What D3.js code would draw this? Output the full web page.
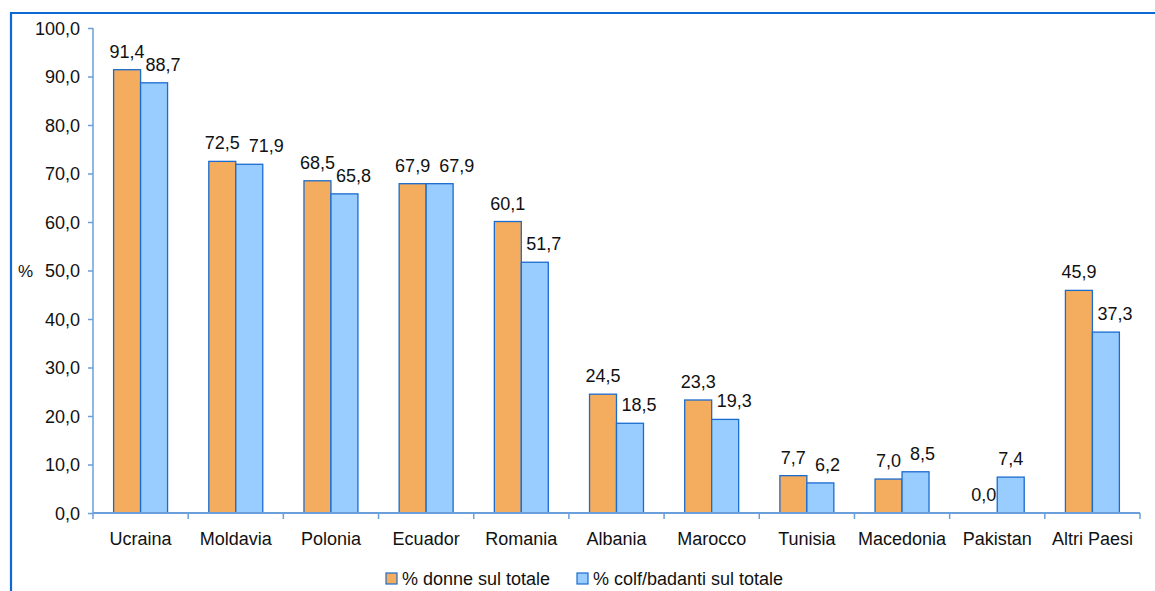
<!DOCTYPE html>
<html>
<head>
<meta charset="utf-8">
<script src="https://cdn.jsdelivr.net/npm/d3@7"></script>
<style>
  html, body { margin: 0; padding: 0; background: #fff; }
  svg { display: block; font-family: "Liberation Sans", Arial, sans-serif; }
</style>
</head>
<body>
<svg id="chart" width="1155" height="591"></svg>
<script>
// Countries and the two percentages per country
const categories = ["Ucraina", "Moldavia", "Polonia", "Ecuador", "Romania", "Albania",
                    "Marocco", "Tunisia", "Macedonia", "Pakistan", "Altri Paesi"];
const donne = [91.4, 72.5, 68.5, 67.9, 60.1, 24.5, 23.3, 7.7, 7.0, 0.0, 45.9];
const colf  = [88.7, 71.9, 65.8, 67.9, 51.7, 18.5, 19.3, 6.2, 8.5, 7.4, 37.3];
const seriesNames = ["% donne sul totale", "% colf/badanti sul totale"];
const yTicks = [0, 10, 20, 30, 40, 50, 60, 70, 80, 90, 100];

const colors = ["#F4AC5E", "#99CCFF"];
const barStroke = "#1A6CCF";
const axisColor = "#6A9FDB";
const fmt = v => v.toFixed(1).replace(".", ",");

const svg = d3.select("#chart");
const W = 1155, H = 591;

// frame around the plot area
svg.append("path")
  .attr("d", `M11,${H + 5} L11,13 L${W + 5},13`)
  .attr("fill", "none").attr("stroke", "#0D68D6").attr("stroke-width", 2.2);

const x = d3.scaleBand().domain(categories)
  .range([93, 1140]).paddingInner(0.433).paddingOuter(0.2165);
const xs = d3.scaleBand().domain([0, 1]).range([0, x.bandwidth()]);
const y = d3.scaleLinear().domain([0, 100]).range([513, 28]);

// y axis
const yAxis = svg.append("g").attr("transform", "translate(93,0)")
  .call(d3.axisLeft(y).tickValues(yTicks).tickFormat(fmt).tickSize(5).tickPadding(8));
yAxis.select(".domain").attr("stroke", axisColor).attr("stroke-width", 1.5)
  .attr("d", `M0,${y(100)}V${y(0)}`);
yAxis.selectAll(".tick line").attr("stroke", axisColor).attr("stroke-width", 1.5);
yAxis.selectAll(".tick text").attr("fill", "#111").attr("font-size", 18)
  .attr("font-family", "Liberation Sans, Arial, sans-serif").attr("dy", "0.36em");

svg.append("text").attr("x", 18).attr("y", 277).attr("font-size", 17)
  .attr("fill", "#111").text("%");

// bars
const data = [donne, colf];
const barsG = svg.append("g");
data.forEach((vals, s) => {
  barsG.selectAll(null).data(vals).join("rect")
    .attr("x", (d, i) => x(categories[i]) + xs(s))
    .attr("width", xs.bandwidth())
    .attr("y", d => y(d))
    .attr("height", d => y(0) - y(d))
    .attr("fill", colors[s])
    .attr("stroke", d => d > 0 ? barStroke : "none")
    .attr("stroke-width", 1.3);
});

// x axis drawn over bar bottoms
const xAxisG = svg.append("g").attr("transform", `translate(0,${y(0)})`);
xAxisG.append("line").attr("x1", 93).attr("x2", 1140).attr("y1", 0).attr("y2", 0)
  .attr("stroke", axisColor).attr("stroke-width", 2);
const bounds = d3.range(categories.length + 1).map(i => 93 + i * x.step());
xAxisG.selectAll(".tk").data(bounds).join("line")
  .attr("x1", d => d).attr("x2", d => d).attr("y1", 0).attr("y2", 6)
  .attr("stroke", axisColor).attr("stroke-width", 1.5);
xAxisG.selectAll(".cat").data(categories).join("text")
  .attr("x", d => x(d) + x.bandwidth() / 2).attr("y", 32)
  .attr("text-anchor", "middle").attr("font-size", 18).attr("fill", "#111")
  .text(d => d);

// value labels; the second label of a pair moves right when it would collide
const labelsG = svg.append("g").attr("font-size", 18).attr("fill", "#111");
categories.forEach((c, i) => {
  const boxes = [];
  data.forEach((vals, s) => {
    const v = vals[i];
    const cx = x(c) + xs(s) + xs.bandwidth() / 2;
    const by = y(v) - 12;
    const t = labelsG.append("text").attr("x", cx).attr("y", by)
      .attr("text-anchor", "middle").text(fmt(v));
    const w = t.node().getComputedTextLength();
    let box = { x0: cx - w / 2, x1: cx + w / 2, y0: by - 13, y1: by };
    if (s === 1) {
      const prev = boxes[0];
      const barTop = y(data[0][i]);
      const barRight = x(c) + xs(0) + xs.bandwidth();
      let minLeft = -Infinity;
      const vOverlap = Math.min(box.y1, prev.y1) - Math.max(box.y0, prev.y0);
      if (vOverlap > 3) minLeft = Math.max(minLeft, prev.x1 + 9);
      if (box.y1 + 2 > barTop) minLeft = Math.max(minLeft, barRight + 5);
      if (box.x0 < minLeft) {
        const nx = minLeft + w / 2;
        t.attr("x", nx);
        box = { x0: nx - w / 2, x1: nx + w / 2, y0: box.y0, y1: box.y1 };
      }
    }
    boxes.push(box);
  });
});

// legend
const legend = svg.append("g");
const legendX = [386, 577];
seriesNames.forEach((n, s) => {
  legend.append("rect").attr("x", legendX[s]).attr("y", 573).attr("width", 11).attr("height", 11)
    .attr("fill", colors[s]).attr("stroke", barStroke).attr("stroke-width", 1.2);
  legend.append("text").attr("x", legendX[s] + 16).attr("y", 585)
    .attr("font-size", 18).attr("fill", "#111").text(n);
});
</script>
</body>
</html>
